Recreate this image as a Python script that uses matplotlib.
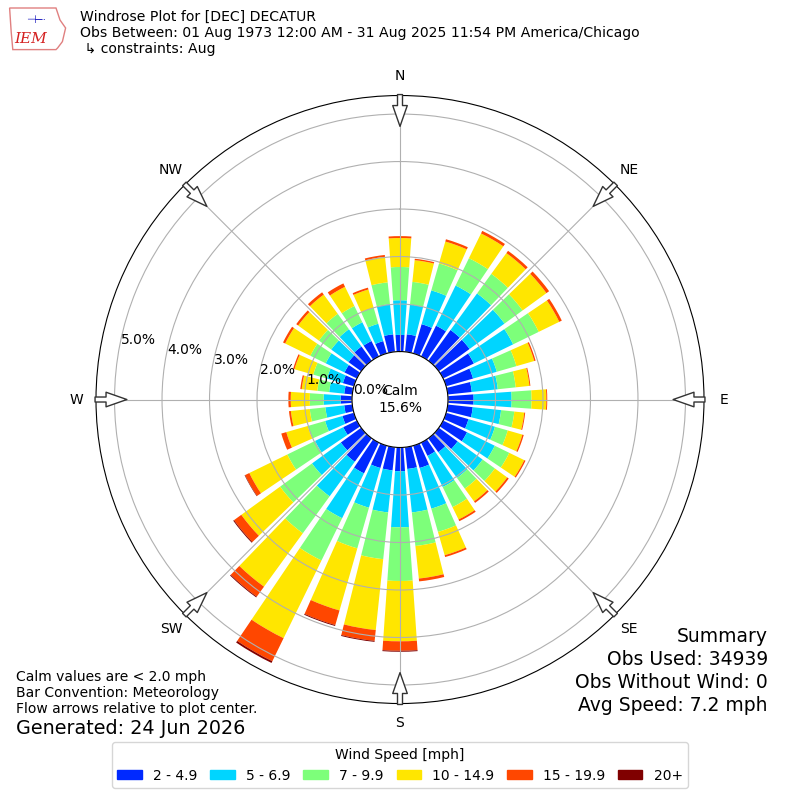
"""
Windrose for DEC (Decatur), August observations 1973-2025.
"""
import matplotlib
matplotlib.use("Agg")
import matplotlib.pyplot as plt
import numpy as np
from matplotlib.patches import Patch, Polygon

# direction of each bar, degrees clockwise from north
directions = np.arange(0, 360, 10)

# percent of observations per speed bin (mph), one value per direction
spd_2_5 = [0.35, 0.37, 0.64, 0.72, 0.80, 0.80, 0.72, 0.59, 0.51, 0.54,
           0.53, 0.49, 0.56, 0.49, 0.36, 0.31, 0.49, 0.46, 0.50, 0.49,
           0.49, 0.72, 0.61, 0.53, 0.32, 0.25, 0.17, 0.24, 0.17, 0.24,
           0.29, 0.33, 0.37, 0.36, 0.27, 0.37]
spd_5_7 = [0.73, 0.63, 0.74, 0.94, 0.95, 0.91, 0.92, 0.52, 0.55, 0.80,
           0.60, 0.58, 0.65, 0.65, 0.67, 0.73, 0.89, 0.92, 1.18, 0.89,
           0.87, 1.05, 0.90, 0.75, 0.66, 0.38, 0.40, 0.36, 0.32, 0.35,
           0.44, 0.45, 0.45, 0.44, 0.38, 0.64]
spd_7_10 = [0.70, 0.48, 0.59, 0.64, 0.51, 0.47, 0.60, 0.43, 0.38, 0.42,
            0.28, 0.28, 0.34, 0.32, 0.28, 0.47, 0.51, 0.71, 1.13, 0.99,
            0.89, 0.99, 0.96, 0.83, 0.65, 0.38, 0.33, 0.29, 0.25, 0.30,
            0.36, 0.32, 0.40, 0.38, 0.35, 0.46]
spd_10_15 = [0.61, 0.46, 0.48, 0.58, 0.54, 0.62, 0.48, 0.39, 0.29, 0.31,
             0.21, 0.32, 0.35, 0.32, 0.33, 0.29, 0.51, 0.69, 1.27, 1.50,
             1.36, 1.82, 1.39, 1.01, 0.89, 0.47, 0.40, 0.40, 0.33, 0.41,
             0.59, 0.54, 0.50, 0.45, 0.40, 0.54]
spd_15_20 = [0.04, 0.03, 0.05, 0.06, 0.06, 0.07, 0.06, 0.03, 0.02, 0.02,
             0.02, 0.03, 0.03, 0.04, 0.04, 0.04, 0.04, 0.06, 0.20, 0.23,
             0.32, 0.54, 0.26, 0.19, 0.10, 0.11, 0.04, 0.05, 0.03, 0.03,
             0.05, 0.05, 0.06, 0.08, 0.04, 0.04]
spd_20_up = [0, 0, 0, 0, 0, 0, 0, 0, 0, 0,
             0, 0, 0, 0, 0, 0, 0, 0, 0.02, 0.02,
             0.02, 0.04, 0.02, 0.02, 0.01, 0, 0, 0, 0, 0,
             0, 0, 0, 0, 0, 0]

bin_labels = ["2 - 4.9", "5 - 6.9", "7 - 9.9", "10 - 14.9", "15 - 19.9", "20+"]
calm_pct = 15.6
ring_values = [0, 1, 2, 3, 4, 5]
compass_angles = [0, 45, 90, 135, 180, 225, 270, 315]
compass_labels = ["N", "NE", "E", "SE", "S", "SW", "W", "NW"]
summary_lines = ["Summary", "Obs Used: 34939", "Obs Without Wind: 0",
                 "Avg Speed: 7.2 mph"]

speed_bins = [spd_2_5, spd_5_7, spd_7_10, spd_10_15, spd_15_20, spd_20_up]
colors = plt.cm.jet(np.arange(1, 7) / 6.0)

fig = plt.figure(figsize=(8, 8), dpi=100)
ax = fig.add_axes([0.12, 0.1206, 0.76, 0.76], projection="polar")
ax.set_theta_zero_location("N")
ax.set_theta_direction(-1)

theta = np.deg2rad(directions)
bottom = np.zeros(len(directions))
for vals, color in zip(speed_bins, colors):
    vals = np.asarray(vals)
    ax.bar(theta, vals, bottom=bottom, width=np.deg2rad(8.0),
           color=color, linewidth=0)
    bottom = bottom + vals

ax.set_ylim(0, 5.39)
ax.set_rorigin(-1.01)
ax.set_yticks(ring_values)
ax.set_yticklabels([])
ax.set_xticks(np.deg2rad(compass_angles))
ax.set_xticklabels([])
ax.grid(True, color="#b0b0b0", linewidth=0.8)

for val in ring_values:
    ax.text(np.deg2rad(282), val, "%.1f%%" % val, ha="left", va="center",
            fontsize=10)

for ang, lab in zip(compass_angles, compass_labels):
    th = np.deg2rad(ang)
    ax.text(th, 5.81, lab, ha="center", va="center", fontsize=10)
    ax.annotate("", xy=(th, 4.74), xytext=(th, 5.41),
                arrowprops=dict(arrowstyle="simple,head_length=1.5,"
                                "head_width=1.05,tail_width=0.36",
                                fc="white", ec="#333333", lw=1.0,
                                shrinkA=0, shrinkB=0),
                annotation_clip=False, zorder=5)

ax.text(0.5, 0.5, "Calm\n%.1f%%" % calm_pct, transform=ax.transAxes,
        ha="center", va="center", fontsize=10, zorder=6)

# header
fig.text(0.1, 0.988, "Windrose Plot for [DEC] DECATUR\n"
         "Obs Between: 01 Aug 1973 12:00 AM - 31 Aug 2025 11:54 PM "
         "America/Chicago\n \u21b3 constraints: Aug",
         va="top", ha="left", fontsize=10.1)

# rough IEM logo
logo = Polygon([[0.012, 0.99], [0.07, 0.99], [0.075, 0.975], [0.082, 0.965],
                [0.078, 0.948], [0.072, 0.94], [0.07, 0.938], [0.016, 0.938],
                [0.014, 0.96]], closed=True, fill=False, ec="#e08080",
               lw=1.0, transform=fig.transFigure)
fig.patches.append(logo)
fig.text(0.038, 0.951, "IEM", color="#d42020", style="italic",
         family="serif", fontsize=11, ha="center", va="center")
fig.text(0.045, 0.975, "\u22a3\u2500\u00b7", color="#2020c0", fontsize=8,
         ha="center", va="center")

# notes
fig.text(0.02, 0.134, "Calm values are < 2.0 mph\nBar Convention: Meteorology\n"
         "Flow arrows relative to plot center.", ha="left", va="center",
         fontsize=10)
fig.text(0.02, 0.0896, "Generated: 24 Jun 2026", ha="left", va="center",
         fontsize=13.8)
for i, line in enumerate(summary_lines):
    fig.text(0.96, 0.205 - i * 0.0288, line, ha="right", va="center",
             fontsize=13.5)

handles = [Patch(color=c) for c in colors]
fig.legend(handles, bin_labels, loc="lower center", bbox_to_anchor=(0.5, 0.006),
           ncol=6, title="Wind Speed [mph]", title_fontsize=10,
           handlelength=1.75, handleheight=0.6, columnspacing=0.95,
           prop={"family": "DejaVu Sans", "size": 10})

fig.savefig("out.png", dpi=100)
